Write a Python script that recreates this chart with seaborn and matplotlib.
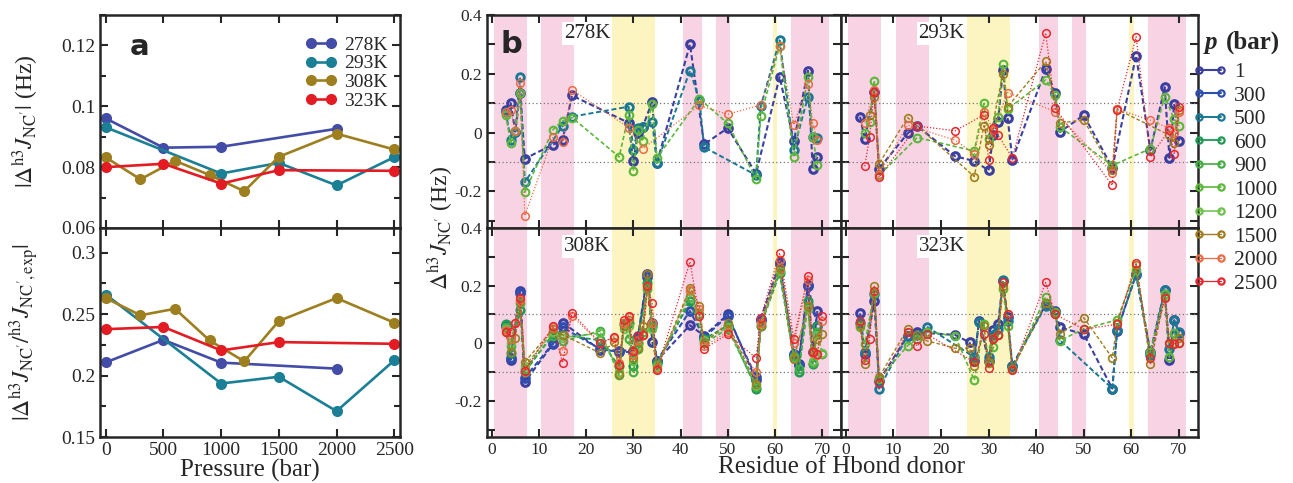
import numpy as np
import pandas as pd
import matplotlib
matplotlib.use("Agg")
import matplotlib.pyplot as plt
import seaborn as sns
from matplotlib.lines import Line2D
from matplotlib.ticker import MultipleLocator, FuncFormatter

n = np.nan

# ---- panel a: |deviation| vs pressure ----
a278_p = [0, 500, 1000, 2000]
a278_hz = [0.0960, 0.0864, 0.0867, 0.0926]
a278_rel = [0.2107, 0.2290, 0.2105, 0.2056]

a293_p = [0, 1000, 1500, 2000, 2500]
a293_hz = [0.0931, 0.0779, 0.0814, 0.0740, 0.0833]
a293_rel = [0.2659, 0.1935, 0.1990, 0.1710, 0.2123]

a308_p = [0, 300, 600, 900, 1200, 1500, 2000, 2500]
a308_hz = [0.0832, 0.0760, 0.0821, 0.0774, 0.0721, 0.0834, 0.0910, 0.0858]
a308_rel = [0.2630, 0.2490, 0.2543, 0.2285, 0.2115, 0.2444, 0.2630, 0.2430]

a323_p = [0, 500, 1000, 1500, 2500]
a323_hz = [0.0800, 0.0811, 0.0746, 0.0790, 0.0788]
a323_rel = [0.2377, 0.2395, 0.2204, 0.2272, 0.2258]

T_COLORS = {"278K": "#434ca6", "293K": "#1b7f96", "308K": "#9d7f1f", "323K": "#e31b23"}

# ---- panel b: per-residue deviations ----
RES = [3, 4, 5, 6, 7, 13, 15, 17, 23, 26, 27, 28, 29, 30, 31, 32, 33, 34, 35,
       42, 44, 45, 50, 56, 57, 61, 64, 65, 67, 68, 69, 70]

b278_1 = [.075, .10, .003, .136, -.089, -.041, -.026, .126,
          n, n, n, n, .033, -.098, .0, .02, n, .105, -.104,
          .30, n, -.04, .015, -.14, n, .19, -.03, n, .21, -.123, -.083, n]
b278_500 = [.07, -.026, .003, .188, -.169, n, .022, .054,
            n, n, n, n, .088, -.06, .015, .02, n, .036, -.104,
            .211, .11, -.05, n, -.145, .09, .314, -.058, n, .122, -.015, -.017, n]
b278_1000 = [.06, -.035, .005, .134, -.203, .01, .04, .051,
             n, n, -.083, n, .059, -.131, .008, -.03, n, .097, -.086,
             n, .115, n, .031, -.157, .057, .295, -.083, n, .19, -.015, -.11, n]
b278_2000 = [.07, .076, .005, .17, -.283, -.015, -.032, .145,
             n, n, n, n, .017, n, n, -.055, n, n, n,
             n, .092, n, .062, n, .094, .296, .026, n, .166, .034, -.026, n]

b293_1 = [.054, -.023, n, .139, -.123, -.003, .022, n,
          -.081, n, -.097, n, n, -.129, -.009, .037, .213, .051, -.092,
          .216, .134, .002, .059, -.12, n, .262, -.06, n, .154, -.086, .097, -.029]
b293_1000 = [n, -.003, .037, .177, -.146, n, -.017, n,
             n, n, -.063, n, .099, -.021, n, .054, .234, .079, n,
             .179, .128, .019, n, -.112, n, n, -.055, n, .122, n, .045, .022]
b293_1500 = [n, n, .059, .122, -.106, .051, n, n,
             n, n, -.15, n, .023, -.043, n, n, .2, .088, n,
             .242, n, .033, .042, -.129, .079, n, n, n, n, -.009, -.035, .077]
b293_2000 = [n, .034, n, .145, -.14, .025, n, n,
             -.026, n, -.072, n, .071, n, .01, n, n, .136, n,
             n, .071, n, n, -.138, .08, n, .042, n, n, .014, .0, .07]
b293_2500 = [n, -.115, -.015, .139, -.152, n, .022, n,
             .006, n, n, n, .06, -.092, .014, -.009, n, n, -.086,
             .339, .082, n, n, -.18, .077, .326, -.083, n, n, .01, -.074, .086]

b308_1 = [.06, -.057, n, .183, -.134, -.002, .072, n,
          -.023, n, -.025, n, n, -.025, .026, n, .24, .006, -.06,
          .063, n, .026, .1, -.128, .08, .283, -.037, -.071, .203, -.03, .112, n]
b308_300 = [.065, -.05, n, .175, -.12, .0, .055, n,
            -.02, n, -.03, n, n, -.03, .02, n, .23, .07, -.06,
            .112, n, .02, .095, -.118, .085, .275, -.04, -.075, .2, n, .06, n]
b308_600 = [.068, -.035, n, .114, -.1, .032, .03, n,
            .01, n, -.08, .066, .07, -.08, .0, n, .21, .06, -.07,
            .146, n, .015, .061, -.157, .061, .243, -.05, -.1, .146, -.071, .06, n]
b308_900 = [.055, -.008, n, .14, -.09, .025, .007, n,
            .043, n, -.111, .07, .015, -.1, -.02, .04, .19, .055, -.076,
            .16, .1, .0, .05, -.15, .07, .25, -.045, -.09, .13, -.07, .04, -.037]
b308_1200 = [.05, .0, n, .15, -.08, .04, .02, n,
             .035, n, -.1, .05, .06, -.06, -.01, .03, .2, .05, -.08,
             .18, n, .01, .055, -.145, .065, .25, -.05, n, .12, -.06, .03, -.035]
b308_1500 = [.04, -.031, .02, .146, -.065, .05, .03, n,
             -.034, .003, -.105, .06, .08, -.05, -.015, .06, .24, .07, -.085,
             .192, .131, .0, .07, -.14, .06, .26, -.054, n, .129, -.025, .015, .032]
b308_2000 = [.045, .015, .07, .15, -.1, .055, -.025, .095,
             .0, .02, -.07, .07, .09, -.04, .01, .03, .2, .07, -.09,
             .186, .12, -.01, .04, -.1, .07, .29, .0, n, .22, -.035, -.04, .078]
b308_2500 = [.038, .038, .072, .158, -.096, .06, -.068, .106,
             .0, .023, -.076, .08, .095, -.025, .025, .03, .198, .14, -.094,
             .283, .095, -.019, .032, -.051, .089, .314, .015, n, .234, -.03, -.037, .095]

b323_1 = [.104, -.037, n, .146, -.13, .026, .038, n,
          .029, .003, -.06, .078, n, -.06, .047, .066, .215, .09, -.077,
          .135, .112, .055, .032, -.157, .043, .24, -.031, n, .184, -.059, .081, .035]
b323_500 = [.07, -.03, n, .17, -.157, .026, .03, .058,
            n, n, -.048, .075, n, -.048, .03, .05, .218, .078, -.08,
            .13, .105, .01, n, -.157, .045, .238, -.04, n, .184, -.019, .081, .04]
b323_1000 = [.055, -.002, n, .175, -.125, -.008, .015, .04,
             .025, n, -.128, n, .066, -.07, -.014, .03, .189, .061, -.09,
             .161, .11, .009, .05, n, .081, .255, -.03, n, .17, -.048, .035, .0]
b323_1500 = [.065, -.071, n, .198, -.117, .051, .03, .009,
             -.017, -.017, -.08, n, .06, -.065, .02, .03, .2, .1, -.09,
             .14, .1, .032, .089, -.051, .07, .27, -.071, n, .16, .0, .0, .02]
b323_2500 = [.078, -.059, .015, .18, -.139, .038, -.01, .032,
             n, n, -.065, n, .032, -.086, .015, .029, .211, .1, -.094,
             .211, .1, n, .049, n, .066, .28, -.051, n, .158, .0, -.002, .0]

PRESSURES = [1, 300, 500, 600, 900, 1000, 1200, 1500, 2000, 2500]
P_COLORS = {1: "#3b3f9f", 300: "#2f4fb0", 500: "#1a7894", 600: "#1e9a55",
            900: "#44ad44", 1000: "#5cb83a", 1200: "#6cc04c", 1500: "#a07d1e",
            2000: "#ec6a44", 2500: "#e8262e"}
# (linewidth, dash pattern, marker edge width)
P_STYLE = {1: (1.5, (2.6, 1.4), 2.2), 300: (1.5, (2.6, 1.4), 2.2), 500: (1.4, (2.6, 1.4), 2.0),
           600: (1.3, (2.6, 1.4), 1.8), 900: (1.2, (2.6, 1.5), 1.5), 1000: (1.2, (2.6, 1.5), 1.5),
           1200: (1.1, (2.6, 1.5), 1.3), 1500: (1.0, (2.6, 1.6), 1.2), 2000: (0.9, (1, 1.5), 1.1),
           2500: (0.9, (1, 1.5), 1.1)}

PINK_SPANS = [(0.5, 7.5), (10.5, 17.5), (40.5, 44.5), (47.5, 50.5), (63.5, 71.5)]
YELLOW_SPANS = [(25.5, 34.5), (59.5, 60.5)]

PANELS = [
    ("278K", [(1, b278_1), (500, b278_500), (1000, b278_1000), (2000, b278_2000)]),
    ("293K", [(1, b293_1), (1000, b293_1000), (1500, b293_1500), (2000, b293_2000), (2500, b293_2500)]),
    ("308K", [(1, b308_1), (300, b308_300), (600, b308_600), (900, b308_900), (1200, b308_1200),
              (1500, b308_1500), (2000, b308_2000), (2500, b308_2500)]),
    ("323K", [(1, b323_1), (500, b323_500), (1000, b323_1000), (1500, b323_1500), (2500, b323_2500)]),
]

sns.set_style("ticks")
plt.rcParams["font.family"] = ["Liberation Serif", "DejaVu Serif"]
plt.rcParams["mathtext.fontset"] = "stix"
plt.rcParams["axes.linewidth"] = 1.8

W, H = 1293, 483
fig = plt.figure(figsize=(W / 100, H / 100), dpi=100)


def box(x0, y0, x1, y1):
    return [x0 / W, 1 - y1 / H, (x1 - x0) / W, (y1 - y0) / H]


def style_ticks(ax, size):
    ax.tick_params(which="both", direction="in", top=True, right=True, labelsize=size,
                   width=1.5)
    ax.tick_params(which="major", length=6)
    ax.tick_params(which="minor", length=4)


fmt_g = FuncFormatter(lambda v, _: "%g" % round(v, 3))

# ---------- panel a ----------
rows_a = []
for T, ps, hz, rel in [("278K", a278_p, a278_hz, a278_rel), ("293K", a293_p, a293_hz, a293_rel),
                       ("308K", a308_p, a308_hz, a308_rel), ("323K", a323_p, a323_hz, a323_rel)]:
    for p, h, r in zip(ps, hz, rel):
        rows_a.append({"T": T, "p": p, "hz": h, "rel": r})
df_a = pd.DataFrame(rows_a)

axA1 = fig.add_axes(box(100, 15, 400, 228))
axA2 = fig.add_axes(box(100, 228, 400, 437))
for ax, col in [(axA1, "hz"), (axA2, "rel")]:
    sns.lineplot(data=df_a, x="p", y=col, hue="T", palette=T_COLORS, estimator=None,
                 marker="o", markersize=8, markeredgewidth=0, linewidth=1.9,
                 legend=False, ax=ax)
    ax.set_xlim(-50, 2550)
    ax.xaxis.set_major_locator(MultipleLocator(500))
    style_ticks(ax, 14)
    ax.yaxis.set_major_formatter(fmt_g)

axA1.set_ylim(0.06, 0.13)
axA1.yaxis.set_major_locator(MultipleLocator(0.02))
axA1.yaxis.set_minor_locator(MultipleLocator(0.01))
axA1.tick_params(labelbottom=False)
axA1.set_xlabel("")
axA1.set_ylabel(r"$|\Delta^{\mathrm{h3}}J_{\mathrm{NC'}}|$ (Hz)", fontsize=17, labelpad=4)

axA2.set_ylim(0.15, 0.32)
axA2.yaxis.set_major_locator(MultipleLocator(0.05))
axA2.yaxis.set_minor_locator(MultipleLocator(0.025))
axA2.set_xlabel("Pressure (bar)", fontsize=18, labelpad=0)
axA2.set_ylabel(r"$|\Delta^{\mathrm{h3}}J_{\mathrm{NC'}}/^{\mathrm{h3}}J_{\mathrm{NC',exp}}|$",
                fontsize=17, labelpad=4)
axA1.yaxis.set_label_coords(-0.2, 0.5)
axA2.yaxis.set_label_coords(-0.2, 0.5)

handles_a = [Line2D([0], [0], color=c, lw=1.9, marker="o", ms=8, mew=0) for c in T_COLORS.values()]
axA1.legend(handles_a, list(T_COLORS.keys()), loc="upper left", bbox_to_anchor=(0.685, 0.90),
            frameon=False, fontsize=14, numpoints=2, handlelength=1.6, handletextpad=0.4,
            labelspacing=0.05, borderpad=0, borderaxespad=0)
axA1.text(0.133, 0.85, "a", transform=axA1.transAxes, fontsize=21, fontweight="bold",
          family="DejaVu Sans", ha="center", va="center")

# ---------- panel b ----------
axB = [[fig.add_axes(box(487, 15, 841, 228)), fig.add_axes(box(841, 15, 1198, 228))],
       [fig.add_axes(box(487, 228, 841, 437)), fig.add_axes(box(841, 228, 1198, 437))]]
fmt_b = FuncFormatter(lambda v, _: ("%g" % round(v, 2)) if round(v * 10) % 2 == 0 else "")

for k, (T, series) in enumerate(PANELS):
    ax = axB[k // 2][k % 2]
    for a, b in PINK_SPANS:
        ax.axvspan(a, b, color="#f8d3e3", lw=0, zorder=0)
    for a, b in YELLOW_SPANS:
        ax.axvspan(a, b, color="#fcf5c2", lw=0, zorder=0)
    for y in (0.1, -0.1):
        ax.axhline(y, color="#777777", lw=0.9, ls=(0, (1, 2)), zorder=1)
    for p, vals in series:
        d = pd.DataFrame({"res": RES, "val": vals}).dropna()
        lw, dash, mew = P_STYLE[p]
        c = P_COLORS[p]
        sns.lineplot(data=d, x="res", y="val", estimator=None, sort=False, ax=ax,
                     color=c, linewidth=lw, linestyle=(0, dash), marker="o", markersize=5.5,
                     markerfacecolor="none", markeredgecolor=c, markeredgewidth=mew,
                     legend=False, zorder=3)
    ax.set_xlim(-1, 74)
    ax.set_ylim(-0.325, 0.4)
    ax.xaxis.set_major_locator(MultipleLocator(10))
    ax.yaxis.set_major_locator(MultipleLocator(0.1))
    ax.yaxis.set_major_formatter(fmt_b)
    style_ticks(ax, 12.5)
    ax.set_xlabel("")
    ax.set_ylabel("")
    ax.text(15.3, 0.337, T, fontsize=15, va="center", ha="left", zorder=4,
            bbox=dict(facecolor="white", edgecolor="none", pad=1.5))
    if k < 2:
        ax.tick_params(labelbottom=False)
    if k % 2 == 1:
        ax.tick_params(labelleft=False)

axB[0][0].text(0.07, 0.86, "b", transform=axB[0][0].transAxes, fontsize=22, fontweight="bold",
               family="DejaVu Sans", ha="center", va="center", zorder=5)
fig.text(440 / W, 1 - 228 / H, r"$\Delta^{\mathrm{h3}}J_{\mathrm{NC'}}$ (Hz)", rotation=90,
         fontsize=17, ha="center", va="center")
fig.text(842 / W, 1 - 467 / H, "Residue of Hbond donor", fontsize=18, ha="center", va="center")

# legend for pressures
handles_b = [Line2D([0], [0], color=P_COLORS[p], lw=P_STYLE[p][0], marker="o", ms=4.5,
                    mfc="none", mec=P_COLORS[p], mew=1.6) for p in PRESSURES]
fig.legend(handles_b, [str(p) for p in PRESSURES], loc="upper left",
           bbox_to_anchor=(1193 / W, 1 - 62 / H), frameon=False, fontsize=15.5, numpoints=2,
           handlelength=1.6, handletextpad=0.3, labelspacing=0.16, borderpad=0, borderaxespad=0)
fig.text(1205 / W, 1 - 42 / H, "p", fontsize=18, fontstyle="italic", fontweight="bold",
         ha="left", va="center")
fig.text(1226 / W, 1 - 42 / H, "(bar)", fontsize=18, fontweight="bold", ha="left", va="center")

fig.savefig("out.png", dpi=100)
